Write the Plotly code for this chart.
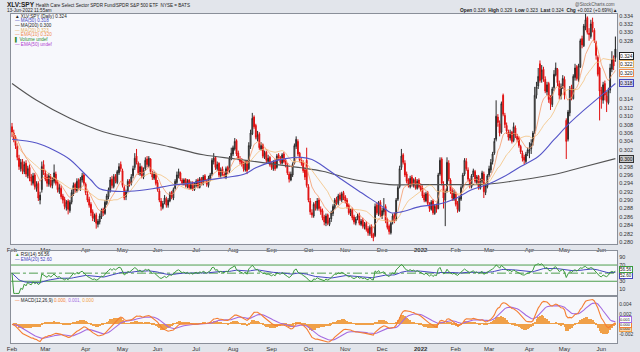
import numpy as np
import pandas as pd
import plotly.graph_objects as go

# ---------------- data (values in 1/10000 units of the XLV:SPY ratio) ----------------
HOLIDAYS = ['2021-02-15', '2021-04-02', '2021-05-31', '2021-07-05', '2021-09-06',
            '2021-11-25', '2021-12-24', '2022-01-17', '2022-02-21', '2022-04-15', '2022-05-30']
MONTH_LABELS = ['Feb', 'Mar', 'Apr', 'May', 'Jun', 'Jul', 'Aug', 'Sep', 'Oct', 'Nov', 'Dec',
                '<b>2022</b>', 'Feb', 'Mar', 'Apr', 'May', 'Jun']

closes = (
    [3062, 3045, 3030, 3002, 2980, 2990, 2970, 2985, 2962, 2975, 2952, 2945, 2958, 2932, 2938, 2905, 2912, 2980, 2968]
    + [2950, 2940, 2958, 2935, 2948, 2965, 2940, 2925, 2930, 2908, 2900, 2885, 2895, 2878, 2895, 2918, 2935, 2925, 2945, 2930, 2950, 2958, 2940]
    + [2918, 2900, 2888, 2870, 2858, 2862, 2845, 2850, 2862, 2875, 2870, 2895, 2910, 2925, 2948, 2935, 2955, 2945, 2968, 2980, 2975]
    + [2935, 2905, 2920, 2945, 2938, 2955, 2975, 3000, 2990, 2965, 2980, 2958, 2972, 2995, 2985, 3000, 2968, 2955, 2962, 2940]
    + [2925, 2900, 2885, 2892, 2905, 2888, 2900, 2915, 2908, 2925, 2945, 2960, 2968, 2950, 2940, 2948, 2935, 2945, 2930, 2940, 2928, 2938]
    + [2945, 2932, 2950, 2940, 2955, 2948, 2938, 2952, 2960, 2995, 3000, 2978, 2985, 2960, 2972, 2965, 2958, 2975, 2968, 3000, 3012]
    + [3025, 3040, 3010, 3000, 2992, 2985, 2975, 2990, 2970, 3030, 3060, 3095, 3075, 3050, 3055, 3025, 3030, 3005, 3012, 2995, 3000, 2985]
    + [2978, 2990, 2975, 3005, 3000, 2990, 3008, 2992, 2985, 2965, 2950, 2962, 2985, 3030, 3045, 3010, 2995, 2988, 2970, 2955, 2935]
    + [2900, 2872, 2865, 2890, 2882, 2898, 2880, 2872, 2858, 2848, 2862, 2845, 2852, 2870, 2885, 2900, 2895, 2910, 2902, 2915, 2905]
    + [2898, 2885, 2870, 2875, 2858, 2848, 2855, 2862, 2845, 2850, 2838, 2842, 2830, 2822, 2835, 2815, 2810, 2885, 2870, 2892, 2865]
    + [2875, 2880, 2850, 2835, 2825, 2845, 2862, 2850, 2900, 2930, 2975, 3005, 2990, 2960, 2945, 2935, 2952, 2938, 2948, 2930, 2945, 2932]
    + [2925, 2910, 2900, 2915, 2892, 2880, 2895, 2870, 2885, 2878, 2960, 2995, 2940, 2905, 2920, 2990, 2950, 2920, 2905, 2918]
    + [2890, 2878, 2905, 2930, 2960, 2995, 2975, 2950, 2935, 2958, 2970, 2945, 2955, 2930, 2948, 2965, 2920, 2935, 2958]
    + [2975, 2990, 3010, 3040, 3100, 3085, 3060, 3130, 3105, 3080, 3065, 3050, 3060, 3040, 3075, 3055, 3045, 3030, 3015, 3000, 2995, 3010, 3020]
    + [3020, 3035, 3060, 3150, 3170, 3195, 3185, 3210, 3190, 3160, 3175, 3140, 3130, 3165, 3200, 3215, 3180, 3150, 3170, 3190]
    + [3150, 3040, 3110, 3165, 3145, 3195, 3215, 3190, 3220, 3280, 3270, 3315, 3330, 3300, 3295, 3320, 3310, 3280, 3245, 3200, 3160]
    + [3140, 3175, 3150, 3135, 3160, 3215, 3235, 3220, 3240]
)
opens = (
    [3075, 3060, 3048, 3028, 3000, 2975, 2992, 2968, 2988, 2958, 2978, 2955, 2940, 2960, 2928, 2940, 2900, 2925, 2985]
    + [2965, 2955, 2938, 2955, 2935, 2945, 2962, 2942, 2920, 2928, 2910, 2902, 2882, 2898, 2875, 2895, 2915, 2938, 2922, 2948, 2928, 2948, 2960]
    + [2938, 2915, 2902, 2890, 2872, 2855, 2865, 2842, 2848, 2860, 2878, 2868, 2892, 2908, 2922, 2950, 2932, 2958, 2942, 2965, 2985]
    + [2970, 2930, 2908, 2922, 2945, 2940, 2958, 2978, 3005, 2988, 2962, 2978, 2955, 2975, 2998, 2982, 2998, 2965, 2952, 2960]
    + [2942, 2922, 2898, 2882, 2895, 2902, 2888, 2898, 2918, 2905, 2928, 2942, 2958, 2965, 2948, 2938, 2950, 2932, 2948, 2928, 2942, 2925]
    + [2935, 2948, 2930, 2952, 2938, 2958, 2945, 2935, 2950, 2962, 2992, 3002, 2975, 2988, 2958, 2975, 2962, 2955, 2978, 2970, 2998]
    + [3010, 3022, 3042, 3012, 2998, 2995, 2988, 2972, 2992, 2975, 3028, 3058, 3098, 3078, 3045, 3058, 3022, 3032, 3002, 3015, 2992, 3002]
    + [2988, 2975, 2992, 2978, 3008, 3002, 2988, 3010, 2995, 2982, 2962, 2948, 2960, 2988, 3028, 3040, 3012, 2992, 2990, 2972, 2995]
    + [2932, 2898, 2870, 2862, 2892, 2880, 2900, 2878, 2875, 2860, 2845, 2865, 2842, 2855, 2868, 2882, 2902, 2892, 2912, 2900, 2918]
    + [2908, 2900, 2888, 2868, 2878, 2860, 2845, 2858, 2865, 2842, 2852, 2835, 2845, 2832, 2820, 2838, 2818, 2815, 2888, 2868, 2895]
    + [2862, 2872, 2885, 2852, 2838, 2822, 2848, 2865, 2855, 2902, 2932, 2978, 3008, 2988, 2962, 2948, 2932, 2955, 2935, 2950, 2928, 2948]
    + [2935, 2928, 2912, 2898, 2918, 2890, 2878, 2898, 2868, 2888, 2880, 2962, 2998, 2938, 2900, 2922, 2988, 2948, 2922, 2902]
    + [2915, 2892, 2875, 2902, 2932, 2962, 2992, 2972, 2948, 2932, 2960, 2968, 2942, 2958, 2928, 2945, 2962, 2918, 2932]
    + [2960, 2972, 2992, 3012, 3045, 3098, 3082, 3062, 3150, 3102, 3078, 3062, 3048, 3062, 3042, 3072, 3052, 3048, 3028, 3012, 3002, 2992, 3012]
    + [3018, 3022, 3038, 3065, 3150, 3172, 3225, 3188, 3212, 3188, 3158, 3178, 3145, 3128, 3168, 3198, 3212, 3178, 3148, 3172]
    + [3188, 3090, 3045, 3108, 3168, 3142, 3192, 3218, 3188, 3218, 3285, 3268, 3312, 3335, 3298, 3290, 3325, 3305, 3275, 3240, 3215]
    + [3162, 3138, 3178, 3148, 3132, 3162, 3212, 3238, 3260]
)
highs = (
    [3084, 3068, 3055, 3035, 3008, 2998, 2998, 2992, 2995, 2982, 2985, 2962, 2965, 2965, 2945, 2945, 2920, 2992, 2995]
    + [2972, 2962, 2965, 2962, 2955, 2985, 2968, 2948, 2938, 2935, 2915, 2908, 2900, 2902, 2900, 2925, 2942, 2942, 2952, 2952, 2955, 2965, 2965]
    + [2942, 2922, 2908, 2895, 2878, 2868, 2870, 2855, 2868, 2880, 2882, 2900, 2915, 2930, 2955, 2958, 2962, 2962, 2972, 2988, 2992]
    + [2975, 2935, 2925, 2950, 2950, 2962, 2982, 3012, 3022, 2992, 2988, 2982, 2978, 3002, 3005, 3005, 3000, 2970, 2968, 2965]
    + [2948, 2928, 2905, 2898, 2912, 2908, 2905, 2920, 2922, 2930, 2950, 2968, 2975, 2968, 2952, 2952, 2952, 2950, 2950, 2945, 2945, 2942]
    + [2950, 2952, 2955, 2955, 2960, 2962, 2950, 2958, 2965, 3000, 3012, 3005, 2992, 2990, 2978, 2980, 2968, 2980, 2982, 3005, 3025]
    + [3030, 3048, 3045, 3018, 3005, 3000, 2992, 2995, 2995, 3038, 3068, 3108, 3102, 3082, 3065, 3062, 3038, 3035, 3018, 3018, 3008, 3005]
    + [2992, 2995, 2998, 3010, 3012, 3005, 3012, 3015, 3000, 2988, 2968, 2968, 2990, 3035, 3052, 3045, 3015, 3000, 2995, 2978, 3025]
    + [2938, 2905, 2878, 2895, 2898, 2905, 2905, 2885, 2880, 2865, 2868, 2868, 2858, 2875, 2890, 2905, 2908, 2915, 2918, 2920, 2922]
    + [2912, 2905, 2892, 2880, 2882, 2865, 2860, 2868, 2870, 2855, 2858, 2848, 2850, 2838, 2840, 2842, 2822, 2892, 2895, 2898, 2900]
    + [2882, 2905, 2890, 2858, 2842, 2850, 2868, 2870, 2905, 2935, 2982, 3022, 3012, 2995, 2968, 2952, 2958, 2960, 2952, 2955, 2950, 2952]
    + [2940, 2935, 2918, 2920, 2922, 2895, 2900, 2902, 2890, 2892, 2965, 3002, 3002, 2945, 2925, 3002, 2995, 2952, 2928, 2925]
    + [2920, 2898, 2910, 2935, 2965, 3000, 3000, 2978, 2952, 2962, 2975, 2972, 2960, 2960, 2952, 2970, 2968, 2940, 2962]
    + [2982, 2998, 3015, 3048, 3138, 3105, 3090, 3135, 3154, 3108, 3085, 3068, 3068, 3065, 3085, 3078, 3058, 3052, 3032, 3018, 3008, 3015, 3025]
    + [3038, 3045, 3065, 3170, 3182, 3215, 3233, 3222, 3218, 3195, 3182, 3182, 3150, 3170, 3210, 3228, 3215, 3185, 3178, 3198]
    + [3195, 3095, 3115, 3172, 3175, 3200, 3225, 3222, 3225, 3285, 3292, 3320, 3344, 3338, 3310, 3330, 3335, 3310, 3280, 3245, 3218]
    + [3170, 3182, 3185, 3158, 3168, 3225, 3255, 3245, 3290]
)
lows = (
    [3050, 3038, 3022, 2995, 2972, 2968, 2962, 2962, 2955, 2952, 2945, 2935, 2935, 2925, 2920, 2898, 2890, 2918, 2960]
    + [2945, 2932, 2932, 2930, 2928, 2940, 2935, 2918, 2915, 2902, 2892, 2878, 2875, 2866, 2870, 2890, 2910, 2918, 2918, 2925, 2922, 2942, 2935]
    + [2912, 2895, 2882, 2862, 2850, 2848, 2832, 2835, 2842, 2855, 2862, 2865, 2888, 2902, 2918, 2928, 2928, 2940, 2938, 2960, 2968]
    + [2930, 2900, 2900, 2918, 2932, 2935, 2952, 2972, 2985, 2960, 2958, 2952, 2950, 2970, 2978, 2978, 2962, 2948, 2948, 2935]
    + [2920, 2895, 2875, 2878, 2890, 2882, 2882, 2895, 2902, 2900, 2925, 2938, 2952, 2945, 2935, 2935, 2930, 2928, 2925, 2925, 2922, 2922]
    + [2930, 2928, 2928, 2935, 2935, 2942, 2932, 2930, 2945, 2958, 2985, 2972, 2970, 2955, 2952, 2958, 2952, 2950, 2962, 2965, 2995]
    + [3005, 3018, 3005, 2995, 2985, 2980, 2968, 2968, 2962, 2972, 3022, 3055, 3070, 3045, 3040, 3020, 3018, 3000, 2998, 2988, 2988, 2980]
    + [2972, 2970, 2970, 2975, 2995, 2985, 2985, 2988, 2978, 2960, 2942, 2945, 2955, 2985, 3022, 3005, 2990, 2982, 2965, 2948, 2930]
    + [2895, 2865, 2858, 2858, 2875, 2875, 2875, 2865, 2852, 2840, 2838, 2840, 2838, 2848, 2862, 2878, 2888, 2888, 2898, 2895, 2900]
    + [2892, 2880, 2865, 2862, 2852, 2842, 2840, 2852, 2840, 2838, 2832, 2830, 2825, 2815, 2815, 2810, 2802, 2812, 2865, 2862, 2860]
    + [2855, 2865, 2845, 2830, 2818, 2818, 2842, 2845, 2850, 2898, 2928, 2972, 2985, 2955, 2940, 2930, 2928, 2932, 2930, 2925, 2925, 2928]
    + [2920, 2905, 2895, 2895, 2888, 2872, 2875, 2865, 2865, 2870, 2878, 2958, 2935, 2880, 2838, 2918, 2945, 2915, 2898, 2898]
    + [2885, 2870, 2872, 2898, 2928, 2958, 2970, 2945, 2928, 2928, 2955, 2940, 2938, 2925, 2925, 2940, 2905, 2912, 2928]
    + [2955, 2965, 2985, 3008, 3040, 3075, 3052, 3058, 3100, 3072, 3058, 3042, 3042, 3035, 3038, 3048, 3038, 3025, 3010, 2992, 2985, 2988, 3005]
    + [3000, 3010, 3030, 3058, 3142, 3165, 3180, 3180, 3182, 3155, 3150, 3132, 3115, 3122, 3160, 3195, 3172, 3140, 3140, 3165]
    + [3140, 2998, 3040, 3100, 3138, 3140, 3185, 3185, 3182, 3215, 3262, 3265, 3305, 3295, 3280, 3285, 3300, 3275, 3235, 3195, 3090]
    + [3118, 3130, 3138, 3110, 3128, 3155, 3205, 3210, 3230]
)

# moving averages (bar index -> value)
ma50_idx = [0, 14, 24, 33, 39, 45, 50, 56, 67, 80, 90, 101, 113, 124, 133, 139, 147, 156, 165, 171, 177,
            188, 199, 211, 216, 222, 233, 243, 252, 262, 271, 280, 290, 300, 309, 318, 324, 335, 344]
ma50_val = [3045, 3036, 3019, 2997, 2973, 2948, 2927, 2922, 2921, 2927, 2935, 2940, 2949, 2955, 2963, 2977, 2990, 2999, 3002, 2997, 2982,
            2949, 2918, 2885, 2870, 2872, 2885, 2890, 2902, 2925, 2937, 2955, 2980, 3004, 3044, 3084, 3107, 3146, 3178]
ma200_idx = [0, 14, 33, 52, 71, 90, 109, 128, 147, 165, 177, 196, 215, 233, 252, 271, 290, 309, 324, 344]
ma200_val = [3178, 3138, 3095, 3063, 3044, 3027, 3008, 2998, 2987, 2977, 2969, 2948, 2937, 2937, 2937, 2938, 2948, 2961, 2977, 2999]

# ---------------- preparation ----------------
dates = pd.bdate_range('2021-02-01', '2022-06-13', freq='C', holidays=HOLIDAYS)
n = min(len(dates), len(closes), len(opens), len(highs), len(lows))
dates = dates[:n]
o = np.array(opens[:n]) / 1e4
c = np.array(closes[:n]) / 1e4
h = np.maximum.reduce([np.array(highs[:n]) / 1e4, o, c])
l = np.minimum.reduce([np.array(lows[:n]) / 1e4, o, c])
xi = np.arange(n)

per = dates.to_period('M')
month_pos = [i for i in range(n) if i == 0 or per[i] != per[i - 1]]
month_txt = MONTH_LABELS[:len(month_pos)]

cs = pd.Series(c)
ma20 = cs.rolling(20, min_periods=1).mean()
ema10 = cs.ewm(span=10, adjust=False).mean()
d = cs.diff().fillna(0)
ag = d.clip(lower=0).ewm(alpha=1 / 14, adjust=False).mean()
al = (-d.clip(upper=0)).ewm(alpha=1 / 14, adjust=False).mean()
rsi = (100 - 100 / (1 + ag / al.replace(0, np.nan))).fillna(50)
rsi_ema = rsi.ewm(span=20, adjust=False).mean()
macd = cs.ewm(span=12, adjust=False).mean() - cs.ewm(span=26, adjust=False).mean()
sig = macd.ewm(span=9, adjust=False).mean()
hist = macd - sig

prev = np.r_[o[0], c[:-1]]
up = c >= prev
last = n - 1
blk = [i for i in range(n - 1) if up[i]]
red = [i for i in range(n - 1) if not up[i]]

# ---------------- figure ----------------
W, H = 640, 352
BG = '#E2E5EB'
PBG = '#F7F8FC'
X0, X1 = 7 / W, 617 / W
PY = [1 - 245 / H, 1 - 13 / H]
RY = [1 - 298 / H, 1 - 252 / H]
MY = [1 - 345 / H, 1 - 298 / H]
XR = [-0.6, 345.0]

fig = go.Figure()


def candles(idx, col, hollow):
    return go.Candlestick(
        x=xi[idx], open=o[idx], high=h[idx], low=l[idx], close=c[idx],
        increasing=dict(line=dict(color=col, width=1), fillcolor=hollow),
        decreasing=dict(line=dict(color=col, width=1), fillcolor=col),
        whiskerwidth=0, hoverinfo='skip', showlegend=False, xaxis='x', yaxis='y')


fig.add_trace(go.Scatter(x=ma200_idx, y=np.array(ma200_val) / 1e4, mode='lines', line=dict(color='#555555', width=1.1, shape='spline'),
                         xaxis='x', yaxis='y', hoverinfo='skip'))
fig.add_trace(go.Scatter(x=xi, y=ma20, mode='lines', line=dict(color='#F4C27E', width=0.8), xaxis='x', yaxis='y', hoverinfo='skip'))
fig.add_trace(go.Scatter(x=xi, y=ema10, mode='lines', line=dict(color='#F59A6A', width=0.8), xaxis='x', yaxis='y', hoverinfo='skip'))
fig.add_trace(go.Scatter(x=ma50_idx, y=np.array(ma50_val) / 1e4, mode='lines', line=dict(color='#5555C8', width=1.1, shape='spline'),
                         xaxis='x', yaxis='y', hoverinfo='skip'))
fig.add_trace(candles(blk, '#2A2A2A', '#B8B8B8'))
fig.add_trace(candles(red, '#E01010', '#F4A0A0'))
fig.add_trace(candles([last], '#1A1A1A', '#FFE600'))

# RSI
fig.add_trace(go.Scatter(x=xi, y=rsi_ema, mode='lines', line=dict(color='#4646C0', width=1), xaxis='x2', yaxis='y2', hoverinfo='skip'))
fig.add_trace(go.Scatter(x=xi, y=rsi, mode='lines', line=dict(color='#3C9A3C', width=1), xaxis='x2', yaxis='y2', hoverinfo='skip'))

# MACD
fig.add_trace(go.Bar(x=xi, y=hist, width=0.55, marker=dict(color='#F0A048', line=dict(width=0)), xaxis='x3', yaxis='y3', hoverinfo='skip'))
fig.add_trace(go.Scatter(x=xi, y=sig, mode='lines', line=dict(color='#A46BE0', width=1.1), xaxis='x3', yaxis='y3', hoverinfo='skip'))
fig.add_trace(go.Scatter(x=xi, y=macd, mode='lines', line=dict(color='#F57E32', width=1.1), xaxis='x3', yaxis='y3', hoverinfo='skip'))

shapes = []
for lvl, dash in [(70, 'solid'), (30, 'solid'), (50, 'dashdot')]:
    shapes.append(dict(type='line', xref='paper', x0=X0, x1=X1, yref='y2', y0=lvl, y1=lvl,
                       line=dict(color='#4E9E4E', width=1, dash=dash), layer='below'))

axline = dict(showline=True, mirror=True, linecolor='#8A8F99', linewidth=1, zeroline=False, showgrid=False)
tickf = dict(size=6, color='#333333')
pt = np.round(np.arange(0.280, 0.3341, 0.002), 3)
covered = {0.300, 0.316, 0.318, 0.320, 0.322, 0.324, 0.326}
pt_txt = ['' if round(v, 3) in covered else f'{v:.3f}' for v in pt]

fig.update_layout(
    width=W, height=H, margin=dict(l=0, r=0, t=0, b=0),
    paper_bgcolor=BG, plot_bgcolor=PBG, showlegend=False, bargap=0,
    font=dict(family='Liberation Sans, Arial, sans-serif', size=6, color='#333333'),
    xaxis=dict(domain=[X0, X1], range=XR, anchor='y', tickvals=month_pos, ticktext=month_txt,
               tickfont=tickf, ticks='', rangeslider=dict(visible=False), **axline),
    xaxis2=dict(domain=[X0, X1], range=XR, anchor='y2', matches='x', showticklabels=False, ticks='', **axline),
    xaxis3=dict(domain=[X0, X1], range=XR, anchor='y3', matches='x', tickvals=month_pos, ticktext=month_txt,
                tickfont=tickf, ticks='', **axline),
    yaxis=dict(domain=PY, range=[0.27956, 0.3344], side='right', anchor='x', tickvals=list(pt),
               ticktext=pt_txt, tickfont=dict(size=5.5, color='#333333'), ticks='', **axline),
    yaxis2=dict(domain=RY, range=[-7.5, 105], side='right', anchor='x2', tickvals=[10, 30, 70, 90],
                tickfont=dict(size=5.5, color='#333333'), ticks='', **axline),
    yaxis3=dict(domain=MY, range=[-0.0038, 0.0056], side='right', anchor='x3', tickvals=[-0.002, 0.002, 0.004],
                ticktext=['-0.002', '0.002', '0.004'], tickfont=dict(size=5, color='#333333'), ticks='', **axline),
    shapes=shapes,
)

ann = []


def txt(x, y, s, size=5, color='#222222', anchor='left'):
    ann.append(dict(xref='paper', yref='paper', x=x / W, y=1 - y / H, text=s, showarrow=False,
                    xanchor=anchor, yanchor='middle', font=dict(size=size, color=color)))


txt(1, 4, '<b>XLV:SPY</b> <span style="font-size:4.6px">Health Care Select Sector SPDR Fund/SPDR S&P 500 ETF  NYSE = BATS</span>', size=6.5)
txt(1, 9.5, '13-Jun-2022 11:55am', size=4.6)
txt(617, 3.5, '@StockCharts.com', size=4.6, color='#555555', anchor='right')
txt(620, 10, '<b>Open</b> 0.326  <b>High</b> 0.329  <b>Low</b> 0.323  <b>Last</b> 0.324  <b>Chg</b> +0.002 (+0.69%)\u25b2', size=4.8, anchor='right')

leg = [('\u25b2 XLV:SPY (Daily) 0.324', '#222222'), ('\u2014 MA(50) 0.318', '#4646C0'), ('\u2014 MA(200) 0.300', '#222222'),
       ('\u2014 MA(20) 0.323', '#E8B060'), ('\u2014 EMA(10) 0.320', '#F08A50'), ('\u258c Volume undef', '#2E8B2E'),
       ('\u2014 EMA(50) undef', '#B040D0')]
for k, (s, col) in enumerate(leg):
    txt(9, 15.5 + 4.65 * k, s, size=4.6, color=col)

txt(9, 256, '<span style="color:#3C9A3C">\u25b2</span> RSI(14) 56.56', size=4.6)
txt(9, 260.5, '\u2014 EMA(20) 52.60', size=4.6, color='#4646C0')
txt(9, 302, '<span style="color:#F57E32">\u2014</span> MACD(12,26,9) <span style="color:#F57E32">0.000,</span> '
            '<span style="color:#A46BE0">0.001,</span> <span style="color:#F0A048">0.000</span>', size=4.6)


def box(yv, yref, s, border, bg='#FFFFFF', size=5):
    ann.append(dict(xref='paper', yref=yref, x=619 / W, y=yv, text=s, showarrow=False, xanchor='left', yanchor='middle',
                    font=dict(size=size, color='#111111'), bordercolor=border, borderwidth=1, borderpad=0, bgcolor=bg))


box(0.2999, 'y', '0.300', '#333333', '#C8C8C8')
box(0.3180, 'y', '0.318', '#4646C0', '#D8D8F4')
box(0.3203, 'y', '0.320', '#F08A50')
box(0.3224, 'y', '0.322', '#E8B060')
box(0.3244, 'y', '0.324', '#222222')
box(43.5, 'y2', '52.60', '#4646C0', size=4.5)
box(59.0, 'y2', '56.56', '#3C9A3C', size=4.5)
box(-0.00088, 'y3', '0.000', '#F0A048', '#FBD8B0', size=4)
box(0.0000, 'y3', '0.000', '#F57E32', size=4)
box(0.00088, 'y3', '0.001', '#A46BE0', size=4)

fig.update_layout(annotations=ann)
fig.write_html('out.html')
